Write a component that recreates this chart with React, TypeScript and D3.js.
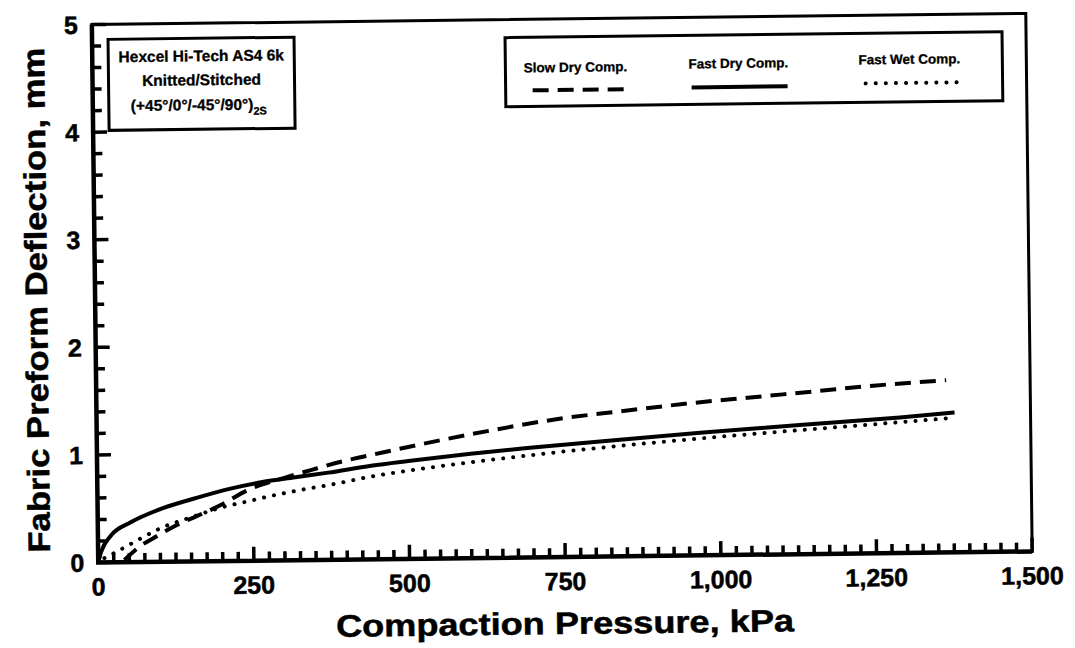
import React from "react";
import * as d3 from "d3";

const slowDryP = [42, 66, 95, 127, 159, 201, 239, 303, 346, 399, 441, 500, 600, 750, 846, 945, 1046, 1151, 1253, 1365];
const slowDryD = [0.02, 0.14, 0.24, 0.34, 0.42, 0.53, 0.65, 0.77, 0.84, 0.92, 0.97, 1.04, 1.15, 1.29, 1.35, 1.41, 1.46, 1.51, 1.56, 1.6];

const fastDryP = [0, 5, 21, 53, 106, 159, 212, 265, 318, 371, 440, 500, 600, 700, 808, 969, 1129, 1290, 1378];
const fastDryD = [0, 0.1, 0.25, 0.37, 0.5, 0.59, 0.67, 0.73, 0.77, 0.81, 0.87, 0.91, 0.97, 1.02, 1.07, 1.14, 1.2, 1.26, 1.3];

const fastWetP = [10, 37, 69, 100, 150, 207, 240, 271, 324, 377, 441, 500, 600, 750, 1000, 1250, 1375];
const fastWetD = [0.04, 0.12, 0.22, 0.31, 0.41, 0.51, 0.55, 0.59, 0.65, 0.7, 0.77, 0.82, 0.89, 0.98, 1.1, 1.2, 1.25];

const xTicks = [0, 250, 500, 750, 1000, 1250, 1500];
const yTicks = [0, 1, 2, 3, 4, 5];

const FONT = "'Liberation Sans', Arial, Helvetica, sans-serif";

export default function App() {
  const L = 95, R = 1029, T = 19, B = 557;
  const x = d3.scaleLinear().domain([0, 1500]).range([L, R]);
  const y = d3.scaleLinear().domain([0, 5]).range([B, T]);
  const line = d3
    .line<[number, number]>()
    .x((d) => x(d[0]))
    .y((d) => y(d[1]))
    .curve(d3.curveMonotoneX);
  const zip = (a: number[], b: number[]) => a.map((v, i) => [v, b[i]] as [number, number]);

  const xMinor = d3.range(0, 1501, 25);
  const yMinor = d3.range(0, 26).map((i) => i * 0.2);
  const xTickPath = xMinor
    .map((v) => `M${x(v).toFixed(2)},${B}V${(B - (v % 250 === 0 ? 14 : 9)).toFixed(2)}`)
    .join("");
  const yTickPath = yMinor
    .map((v, i) => `M${L},${y(v).toFixed(2)}H${L + (i % 5 === 0 ? 14 : 9)}`)
    .join("");
  const heavy = { stroke: "#000", strokeWidth: 0.5 };

  return (
    <svg
      width={1075}
      height={648}
      style={{ position: "absolute", left: 0, top: 0, background: "#fff" }}
      fontFamily={FONT}
    >
      <g transform="rotate(-0.68 562 287)">
        {/* frame */}
        <rect x={L} y={T} width={R - L} height={B - T} fill="none" stroke="#000" strokeWidth={3} />
        <path d={`M${L},${T}V${B}H${R}`} fill="none" stroke="#000" strokeWidth={4.5} />
        {/* ticks */}
        <path d={xTickPath} fill="none" stroke="#000" strokeWidth={3.5} />
        <path d={yTickPath} fill="none" stroke="#000" strokeWidth={3.5} />
        {/* tick labels */}
        {xTicks.map((v) => (
          <text key={"xl" + v} x={x(v)} y={590} textAnchor="middle" fontSize={25} fontWeight="bold" {...heavy}>
            {d3.format(",")(v)}
          </text>
        ))}
        {yTicks.map((v) => (
          <text key={"yl" + v} x={81} y={y(v) + 9} textAnchor="end" fontSize={25} fontWeight="bold" {...heavy}>
            {v}
          </text>
        ))}
        {/* axis titles */}
        <text x={561} y={634} textAnchor="middle" fontSize={31} fontWeight="bold" textLength={458} lengthAdjust="spacingAndGlyphs" {...heavy}>
          Compaction Pressure, kPa
        </text>
        <text
          transform={`translate(47 ${294}) rotate(-90)`}
          textAnchor="middle"
          fontSize={31}
          fontWeight="bold"
          textLength={505}
          lengthAdjust="spacingAndGlyphs"
          {...heavy}
        >
          Fabric Preform Deflection, mm
        </text>

        {/* curves */}
        <path d={line(zip(slowDryP, slowDryD)) || ""} fill="none" stroke="#000" strokeWidth={4} strokeDasharray="16 9" />
        <path d={line(zip(fastDryP, fastDryD)) || ""} fill="none" stroke="#000" strokeWidth={4} />
        <path
          d={line(zip(fastWetP, fastWetD)) || ""}
          fill="none"
          stroke="#000"
          strokeWidth={4}
          strokeDasharray="0.1 10"
          strokeLinecap="round"
        />

        {/* material box */}
        <rect x={111} y={34} width={186} height={91} fill="#fff" stroke="#000" strokeWidth={3} />
        <text x={204} y={57} textAnchor="middle" fontSize={15.5} fontWeight="bold" {...heavy} strokeWidth={0.3}>
          Hexcel Hi-Tech AS4 6k
        </text>
        <text x={204} y={81} textAnchor="middle" fontSize={15.5} fontWeight="bold" {...heavy} strokeWidth={0.3}>
          Knitted/Stitched
        </text>
        <text x={201} y={106} textAnchor="middle" fontSize={15.5} fontWeight="bold" {...heavy} strokeWidth={0.3}>
          (+45°/0°/-45°/90°)
          <tspan fontSize={11} dy={5}>2S</tspan>
        </text>

        {/* legend box */}
        <rect x={508} y={37} width={497} height={69} fill="#fff" stroke="#000" strokeWidth={3} />
        <text x={578} y={72} textAnchor="middle" fontSize={13.5} fontWeight="bold" {...heavy} strokeWidth={0.3}>Slow Dry Comp.</text>
        <text x={741} y={70} textAnchor="middle" fontSize={13.5} fontWeight="bold" {...heavy} strokeWidth={0.3}>Fast Dry Comp.</text>
        <text x={912} y={68} textAnchor="middle" fontSize={13.5} fontWeight="bold" {...heavy} strokeWidth={0.3}>Fast Wet Comp.</text>
        <line x1={535} x2={627} y1={90} y2={90} stroke="#000" strokeWidth={4} strokeDasharray="16 9" />
        <line x1={694} x2={790} y1={89} y2={89} stroke="#000" strokeWidth={4} />
        <line x1={868} x2={962} y1={87} y2={87} stroke="#000" strokeWidth={4} strokeDasharray="0.1 10" strokeLinecap="round" />
      </g>
    </svg>
  );
}
